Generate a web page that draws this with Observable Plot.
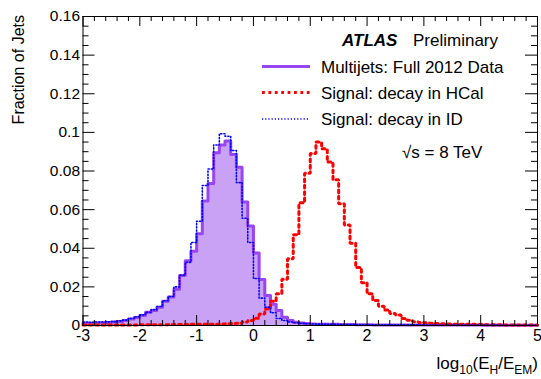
<!DOCTYPE html>
<html>
<head>
<meta charset="utf-8">
<script src="https://cdn.jsdelivr.net/npm/d3@7"></script>
<script src="https://cdn.jsdelivr.net/npm/@observablehq/plot@0.6"></script>
<style>
  body { margin: 0; background: #fff; }
  svg { display: block; }
</style>
</head>
<body>
<div id="chart"></div>
<script>
// Histograms of log10(E_H/E_EM): 80 bins of width 0.1 from -3 to 5
const binStartTenths = -30;   // first bin edge, in tenths

// Multijets, full 2012 data (fraction of jets per bin)
const multijets = [
  0.0012, 0.0012, 0.0013, 0.0014, 0.0016, 0.0018, 0.0021, 0.0026, 0.0034, 0.0042,
  0.0052, 0.0068, 0.0078, 0.0095, 0.0126, 0.0148, 0.0188, 0.0259, 0.0335, 0.0385,
  0.0475, 0.0645, 0.0735, 0.0895, 0.0935, 0.0955, 0.0885, 0.0820, 0.0640, 0.0515,
  0.0375, 0.0238, 0.0155, 0.0110, 0.0078, 0.0043, 0.0026, 0.0017, 0.0013, 0.0010,
  0.0008, 0.0007, 0.0007, 0.0006, 0.0006, 0.0005, 0.0005, 0.0005, 0.0004, 0.0004,
  0.0004, 0.0003, 0.0003, 0.0003, 0.0003, 0.0003, 0.0003, 0.0003, 0.0002, 0.0002,
  0.0002, 0.0002, 0.0002, 0.0002, 0.0002, 0.0002, 0.0002, 0.0002, 0.0002, 0.0002,
  0.0001, 0.0001, 0.0001, 0.0001, 0.0001, 0.0001, 0.0001, 0.0001, 0.0001, 0.0001
];

// Signal: decay in the hadronic calorimeter
const signalHCal = [
  0.0003, 0.0003, 0.0003, 0.0003, 0.0003, 0.0003, 0.0003, 0.0003, 0.0003, 0.0003,
  0.0004, 0.0004, 0.0004, 0.0004, 0.0004, 0.0005, 0.0005, 0.0005, 0.0005, 0.0006,
  0.0006, 0.0006, 0.0007, 0.0007, 0.0008, 0.0009, 0.0010, 0.0012, 0.0018, 0.0026,
  0.0037, 0.0060, 0.0085, 0.0125, 0.0165, 0.0240, 0.0345, 0.0470, 0.0635, 0.0788,
  0.0890, 0.0950, 0.0915, 0.0846, 0.0755, 0.0630, 0.0520, 0.0426, 0.0300, 0.0222,
  0.0164, 0.0130, 0.0100, 0.0080, 0.0062, 0.0054, 0.0036, 0.0027, 0.0020, 0.0016,
  0.0014, 0.0012, 0.0010, 0.0009, 0.0008, 0.0007, 0.0007, 0.0006, 0.0006, 0.0005,
  0.0005, 0.0004, 0.0004, 0.0004, 0.0003, 0.0003, 0.0003, 0.0003, 0.0002, 0.0002
];

// Signal: decay in the inner detector
const signalID = [
  0.0018, 0.0017, 0.0018, 0.0018, 0.0019, 0.0020, 0.0024, 0.0028, 0.0036, 0.0045,
  0.0055, 0.0068, 0.0082, 0.0098, 0.0128, 0.0150, 0.0200, 0.0260, 0.0327, 0.0430,
  0.0540, 0.0725, 0.0810, 0.0935, 0.0993, 0.0980, 0.0906, 0.0740, 0.0555, 0.0430,
  0.0243, 0.0142, 0.0095, 0.0066, 0.0036, 0.0026, 0.0018, 0.0014, 0.0011, 0.0009,
  0.0008, 0.0007, 0.0007, 0.0006, 0.0006, 0.0005, 0.0005, 0.0005, 0.0004, 0.0004,
  0.0004, 0.0004, 0.0003, 0.0003, 0.0003, 0.0003, 0.0003, 0.0003, 0.0003, 0.0002,
  0.0002, 0.0002, 0.0002, 0.0002, 0.0002, 0.0002, 0.0002, 0.0002, 0.0002, 0.0002,
  0.0002, 0.0002, 0.0002, 0.0001, 0.0001, 0.0001, 0.0001, 0.0001, 0.0001, 0.0001
];

const xTicks = [-3, -2, -1, 0, 1, 2, 3, 4, 5];
const yTicks = [0, 0.02, 0.04, 0.06, 0.08, 0.1, 0.12, 0.14, 0.16];
const legendLabels = ["Multijets: Full 2012 Data", "Signal: decay in HCal", "Signal: decay in ID"];

const colors = {
  fill: "#c9a2f6",
  multijets: "#9a46f0",
  hcal: "#ff0000",
  id: "#0000ff"
};

// Line styles shared by the histograms and the legend
const styles = {
  multijets: {stroke: colors.multijets, width: 3, dash: null},
  hcal: {stroke: colors.hcal, width: 3, dash: "2.8,3.6"},
  id: {stroke: colors.id, width: 1.6, dash: "1.2,2"}
};

// Layout
const W = 541, H = 379;
const margin = {top: 16, right: 4, bottom: 54, left: 82.5};
const innerW = W - margin.left - margin.right;
const innerH = H - margin.top - margin.bottom;
const font = "'Liberation Sans', Arial, Helvetica, sans-serif";

// Step outline points: one per bin low edge, plus the closing upper edge
function steps(values) {
  const pts = values.map((v, i) => ({x: (binStartTenths + i) / 10, y: v}));
  pts.push({x: (binStartTenths + values.length) / 10, y: values[values.length - 1]});
  return pts;
}

// Minor tick positions (every 0.2 on x, every 0.005 on y)
const xMinor = d3.range(-30, 51, 2).map(d => d / 10).filter(d => !Number.isInteger(d));
const yMinor = d3.range(0, 161, 5).map(d => d / 1000).filter(d => Math.round(d * 1000) % 20 !== 0);

const plot = Plot.plot({
  width: W,
  height: H,
  marginTop: margin.top,
  marginRight: margin.right,
  marginBottom: margin.bottom,
  marginLeft: margin.left,
  style: {fontFamily: font, background: "#fff", color: "black"},
  x: {domain: [-3, 5], axis: null},
  y: {domain: [0, 0.16], axis: null},
  marks: [
    Plot.areaY(steps(multijets), {x: "x", y: "y", curve: "step-after", fill: colors.fill}),
    Plot.lineY(steps(multijets), {x: "x", y: "y", curve: "step-after",
      stroke: styles.multijets.stroke, strokeWidth: styles.multijets.width}),
    Plot.lineY(steps(signalHCal), {x: "x", y: "y", curve: "step-after",
      stroke: styles.hcal.stroke, strokeWidth: styles.hcal.width, strokeDasharray: styles.hcal.dash, strokeLinejoin: "miter"}),
    Plot.lineY(steps(signalID), {x: "x", y: "y", curve: "step-after",
      stroke: styles.id.stroke, strokeWidth: styles.id.width, strokeDasharray: styles.id.dash}),
    // bottom and top ticks, pointing inward
    Plot.ruleX(xTicks, {stroke: "black", insetTop: innerH - 10}),
    Plot.ruleX(xMinor, {stroke: "black", insetTop: innerH - 5}),
    Plot.ruleX(xTicks, {stroke: "black", insetBottom: innerH - 10}),
    Plot.ruleX(xMinor, {stroke: "black", insetBottom: innerH - 5}),
    // left and right ticks, pointing inward
    Plot.ruleY(yTicks, {stroke: "black", insetRight: innerW - 12}),
    Plot.ruleY(yMinor, {stroke: "black", insetRight: innerW - 6}),
    Plot.ruleY(yTicks, {stroke: "black", insetLeft: innerW - 12}),
    Plot.ruleY(yMinor, {stroke: "black", insetLeft: innerW - 6}),
    Plot.frame({stroke: "black", strokeWidth: 1}),
    Plot.axisX({ticks: xTicks, tickSize: 0, tickPadding: 4, tickFormat: d => String(d), fontSize: 16, label: null}),
    Plot.axisY({ticks: yTicks, tickSize: 0, tickPadding: 3, tickFormat: d3.format("~g"), fontSize: 15.5, label: null})
  ]
});

const svg = d3.select(plot);
svg.selectAll("text").attr("fill", "black");

// Axis titles
svg.append("text")
  .attr("transform", "translate(24,15) rotate(-90)")
  .attr("text-anchor", "end")
  .attr("font-size", 16)
  .attr("fill", "black")
  .text("Fraction of Jets");

const xTitle = svg.append("text")
  .attr("x", 538).attr("y", 369)
  .attr("text-anchor", "end")
  .attr("font-size", 17)
  .attr("fill", "black");
xTitle.append("tspan").text("log");
xTitle.append("tspan").attr("font-size", 12).attr("dy", 5).text("10");
xTitle.append("tspan").attr("dy", -5).text("(E");
xTitle.append("tspan").attr("font-size", 12).attr("dy", 5).text("H");
xTitle.append("tspan").attr("dy", -5).text("/E");
xTitle.append("tspan").attr("font-size", 12).attr("dy", 5).text("EM");
xTitle.append("tspan").attr("dy", -5).text(")");

// Legend
const legend = svg.append("g")
  .attr("font-size", 17)
  .attr("fill", "black")
  .attr("text-anchor", "start");
legend.append("text").attr("x", 342).attr("y", 46)
  .attr("font-weight", "bold").attr("font-style", "italic").text("ATLAS");
legend.append("text").attr("x", 413).attr("y", 46).text("Preliminary");

const legendStyles = [styles.multijets, styles.hcal, styles.id];
const rowY = [66.5, 92.5, 119];
legendLabels.forEach((label, i) => {
  const s = legendStyles[i];
  legend.append("line")
    .attr("x1", 262).attr("x2", 310)
    .attr("y1", rowY[i]).attr("y2", rowY[i])
    .attr("stroke", s.stroke)
    .attr("stroke-width", s.width)
    .attr("stroke-dasharray", s.dash);
  legend.append("text")
    .attr("x", 321).attr("y", rowY[i] + 6)
    .text(label);
});

legend.append("text").attr("x", 402).attr("y", 158).text("\u221As = 8 TeV");

document.getElementById("chart").appendChild(plot);
</script>
</body>
</html>
